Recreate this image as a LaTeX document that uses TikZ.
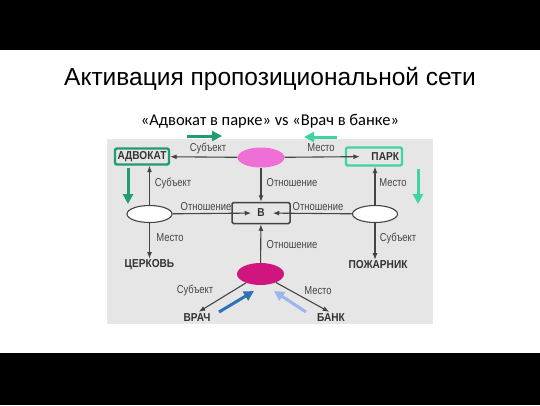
\documentclass[tikz,border=0pt]{standalone}
\usepackage{fontspec}
\setmainfont{Liberation Sans}
\newfontfamily\subfont{Carlito}
\newfontfamily\relfont[FakeStretch=0.82]{Liberation Sans}
\newfontfamily\wordfont[FakeStretch=0.88]{Liberation Sans Bold}
\usetikzlibrary{arrows.meta,shapes.geometric}
\definecolor{panel}{HTML}{E6E6E6}
\definecolor{linkgray}{HTML}{444444}
\definecolor{wordgray}{HTML}{333333}
\definecolor{advgreen}{HTML}{1F9C70}
\definecolor{parkgreen}{HTML}{3FD4A1}
\definecolor{propink}{HTML}{EE6FD6}
\definecolor{propmag}{HTML}{D0157F}
\definecolor{docblue}{HTML}{2E72B8}
\definecolor{bankblue}{HTML}{9CB5EA}
\tikzset{
  link/.style={draw=linkgray,line width=1.1pt,-{Latex[length=6.5pt,width=5pt]}},
  rel/.style={text=linkgray,font=\relfont\fontsize{11.5}{13}\selectfont,inner sep=0pt},
  word/.style={text=wordgray,font=\wordfont\fontsize{11.5}{13}\selectfont,inner sep=1pt},
  prop/.style={ellipse,minimum width=46pt,minimum height=20pt,inner sep=0pt},
  hint/.style={line width=3pt,-{Triangle[length=10pt,width=10pt]}},
}
\begin{document}
\begin{tikzpicture}[x=1pt,y=-1pt] % propositional network
  \useasboundingbox (0,0) rectangle (540,405);
  \fill[white] (0,0) rectangle (540,405);
  \fill[black] (0,0) rectangle (540,50);
  \fill[black] (0,353) rectangle (540,405);
  \node[font=\fontsize{24.5}{28}\selectfont] (title) at (270,79) {Активация пропозициональной сети};
  \node[font=\subfont\fontsize{16.5}{19}\selectfont] (sub) at (270,121) {«Адвокат в парке» vs «Врач в банке»};
  \fill[panel] (107,139) rectangle (433,324);

  % propositions
  \node[prop,fill=propink,minimum width=47pt] (p1) at (261,157.5) {};
  \node[prop,draw=linkgray,fill=white,line width=1.1pt,minimum width=45pt,minimum height=17pt] (p2) at (149.5,214) {};
  \node[prop,draw=linkgray,fill=white,line width=1.1pt,minimum width=45pt,minimum height=17pt] (p3) at (375,214) {};
  \node[prop,fill=propmag,minimum width=47pt,minimum height=22pt] (p4) at (260.5,274) {};

  % concepts
  \node[word,draw=advgreen,line width=2.4pt,rounded corners=2pt,minimum width=54pt,minimum height=16pt] (adv) at (142,156.5) {АДВОКАТ};
  \node[word,draw=parkgreen,line width=2.4pt,rounded corners=2pt,text width=50pt,align=right,inner sep=3pt,minimum height=18pt] (park) at (374,156.5) {ПАРК};
  \node[word,draw=linkgray,line width=1.5pt,rounded corners=1.5pt,minimum width=58pt,minimum height=21pt] (loc) at (261,213) {В};
  \node[word] (church) at (149.5,265) {ЦЕРКОВЬ};
  \node[word] (fire) at (378,265) {ПОЖАРНИК};
  \node[word] (doc) at (197,318) {ВРАЧ};
  \node[word] (bank) at (331,318) {БАНК};

  \draw[link] (p1) -- (adv);
  \draw[link,shorten >=-15pt] (p1) -- (park);
  \draw[link] (p2) -- (p2 |- adv.south);
  \draw[link] (p3) -- (p3 |- park.south);
  \draw[link] (p1) -- (loc);
  \draw[link] (p4) -- (loc);
  \draw[link,shorten >=-20pt] (p2) -- (loc);
  \draw[link,shorten >=-18pt] (p3) -- (loc);
  \draw[link] (p2) -- (p2 |- church.north);
  \draw[link] (p3) -- (p3 |- fire.north);
  \draw[link,shorten >=2pt] (p4) -- (doc.north);
  \draw[link,shorten >=2pt] (p4) -- (bank.north);

  \node[rel] (r1) at (208,148) {Субъект};
  \node[rel] (r2) at (321,148) {Место};
  \node[rel] (r3) at (173,183) {Субъект};
  \node[rel] (r4) at (393,183) {Место};
  \node[rel] (r5) at (292,183) {Отношение};
  \node[rel] (r6) at (206,207) {Отношение};
  \node[rel] (r7) at (318,207) {Отношение};
  \node[rel] (r8) at (170,238) {Место};
  \node[rel] (r9) at (398,238) {Субъект};
  \node[rel] (r10) at (292,245) {Отношение};
  \node[rel] (r11) at (195,290) {Субъект};
  \node[rel] (r12) at (318,291) {Место};

  % activation cues
  \coordinate (g1a) at (187,136);
  \coordinate (g1b) at (222,136);
  \coordinate (g2a) at (337,137);
  \coordinate (g2b) at (304,137);
  \coordinate (g3a) at (128,168);
  \coordinate (g3b) at (128,204);
  \coordinate (g4a) at (418,169);
  \coordinate (g4b) at (418,204);
  \coordinate (b1a) at (219,312);
  \coordinate (b1b) at (254,291);
  \coordinate (b2a) at (306,312);
  \coordinate (b2b) at (274,291);
  \draw[hint,advgreen] (g1a) -- (g1b);
  \draw[hint,parkgreen] (g2a) -- (g2b);
  \draw[hint,advgreen] (g3a) -- (g3b);
  \draw[hint,parkgreen] (g4a) -- (g4b);
  \draw[hint,docblue] (b1a) -- (b1b);
  \draw[hint,bankblue] (b2a) -- (b2b);
\end{tikzpicture}
\end{document}
